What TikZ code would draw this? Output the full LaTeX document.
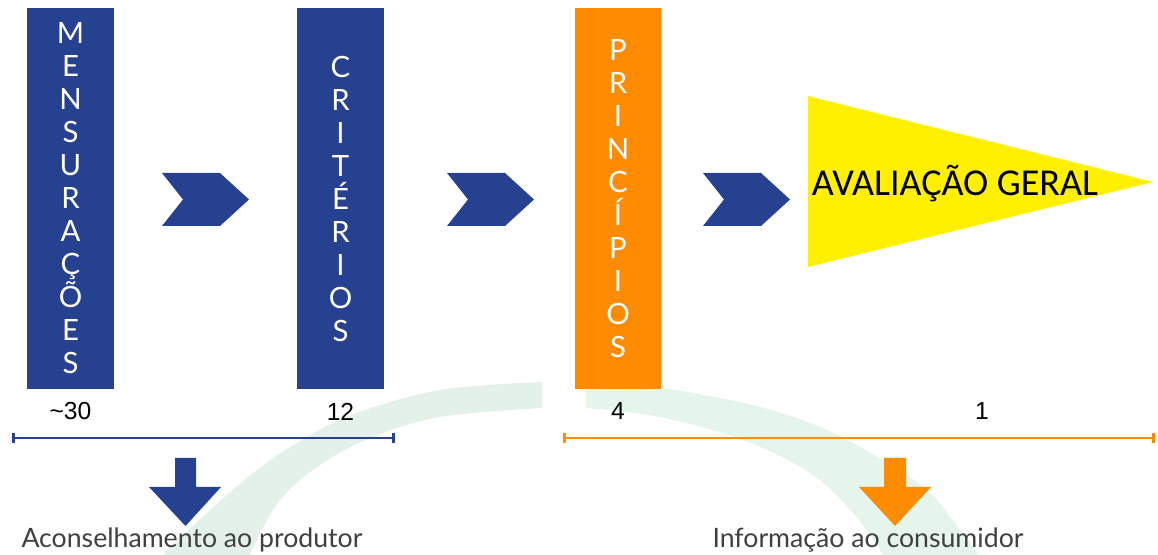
\documentclass[tikz,border=0pt]{standalone}
\usepackage{fontspec}
\setmainfont{Lato}
\newfontfamily\numfont{Liberation Sans}
\newfontfamily\evalfont{Carlito}
\usetikzlibrary{arrows,arrows.meta,positioning}
\definecolor{barblue}{RGB}{38,65,143}
\definecolor{barorange}{RGB}{255,140,0}
\definecolor{flagyellow}{RGB}{255,240,0}
\definecolor{arcgreen}{RGB}{228,241,233}
\definecolor{arcmint}{RGB}{230,245,236}
\definecolor{textgrey}{RGB}{64,64,64}
\newcommand\barletters{\fontsize{22}{24.75}\selectfont\lineskiplimit=-20pt\relax}

\begin{document}
\begin{tikzpicture}[x=0.75pt,y=-0.75pt,semithick]
  \tikzstyle{bar}=[rectangle, inner sep=0pt, minimum width=65.25pt,
    minimum height=285.75pt, text=white, align=center, font=\barletters]
  \tikzstyle{count}=[font=\numfont\fontsize{18.5}{20}\selectfont]
  \tikzstyle{goal}=[font=\fontsize{20}{24}\selectfont, text=textgrey]
  \tikzstyle{spanline}=[line width=1.9pt, {Bar[width=7.5pt]}-{Bar[width=7.5pt]}]

  \useasboundingbox[fill=white] (0,0) rectangle (1158,555);

  % faint arc behind
  \fill[arcgreen] plot[smooth, tension=0.6] coordinates {(542,382) (440,390)
      (357,413) (307,437) (257,470) (207,513) (163,555) (152,575)}
    -- plot[smooth, tension=0.6] coordinates {(246,575) (250,555) (280,500)
      (323,463) (373,437) (440,417) (542,408)} -- cycle;
  \fill[arcmint] plot[smooth, tension=0.6] coordinates {(586,382) (662,388)
      (760,407) (827,430) (877,457) (927,490) (960,530) (977,553) (982,575)}
    -- plot[smooth, tension=0.6] coordinates {(889,575) (883,555) (853,513)
      (810,473) (743,440) (660,417) (586,408)} -- cycle;

  \node[bar, fill=barblue] (mens) at (70.5,198.5) {M\\E\\N\\S\\U\\R\\A\\Ç\\Õ\\E\\S};
  \node[bar, fill=barblue] (crit) at (340.5,198.5) {C\\R\\I\\T\\É\\R\\I\\O\\S};
  \node[bar, fill=barorange, minimum width=64.5pt] (prin) at (618,198.5) {P\\R\\I\\N\\C\\Í\\P\\I\\O\\S};

  \foreach \x in {162,447,703}
    \fill[barblue] (\x,173) -- ++(58,0) -- ++(29,26.5) -- ++(-29,26.5)
      -- ++(-58,0) -- ++(21,-26.5) -- cycle;

  \fill[flagyellow] (808,96) -- (1153,182) -- (808,267) -- cycle;
  \node[font=\evalfont\fontsize{28.5}{30}\selectfont] (eval) at (955,184) {AVALIAÇÃO GERAL};

  \node[count] (c30) at ([yshift=-16.5pt]mens.south) {\textasciitilde30};
  \node[count] (c12) at ([yshift=-16.5pt]crit.south) {12};
  \node[count] (c4) at ([yshift=-16.5pt]prin.south) {4};
  \node[count] (c1) at (982,411) {1};

  % ranges
  \coordinate (advL) at (12,438);
  \coordinate (advR) at (395,438);
  \coordinate (infL) at (563,438);
  \coordinate (infR) at (1155,438);
  \draw[spanline, barblue] (advL) -- (advR);
  \draw[spanline, barorange] (infL) -- (infR);

  \fill[barblue] (175,458) -- (196,458) -- (196,487) -- (221,487) -- (185.5,526)
    -- (149,487) -- (175,487) -- cycle;
  \fill[barorange] (884,458) -- (906,458) -- (906,487) -- (931,487) -- (895,526)
    -- (859,487) -- (884,487) -- cycle;

  \node[goal] (adv) at (192,540) {Aconselhamento ao produtor};
  \node[goal] (inf) at (868,540) {Informação ao consumidor};
\end{tikzpicture}
\end{document}
